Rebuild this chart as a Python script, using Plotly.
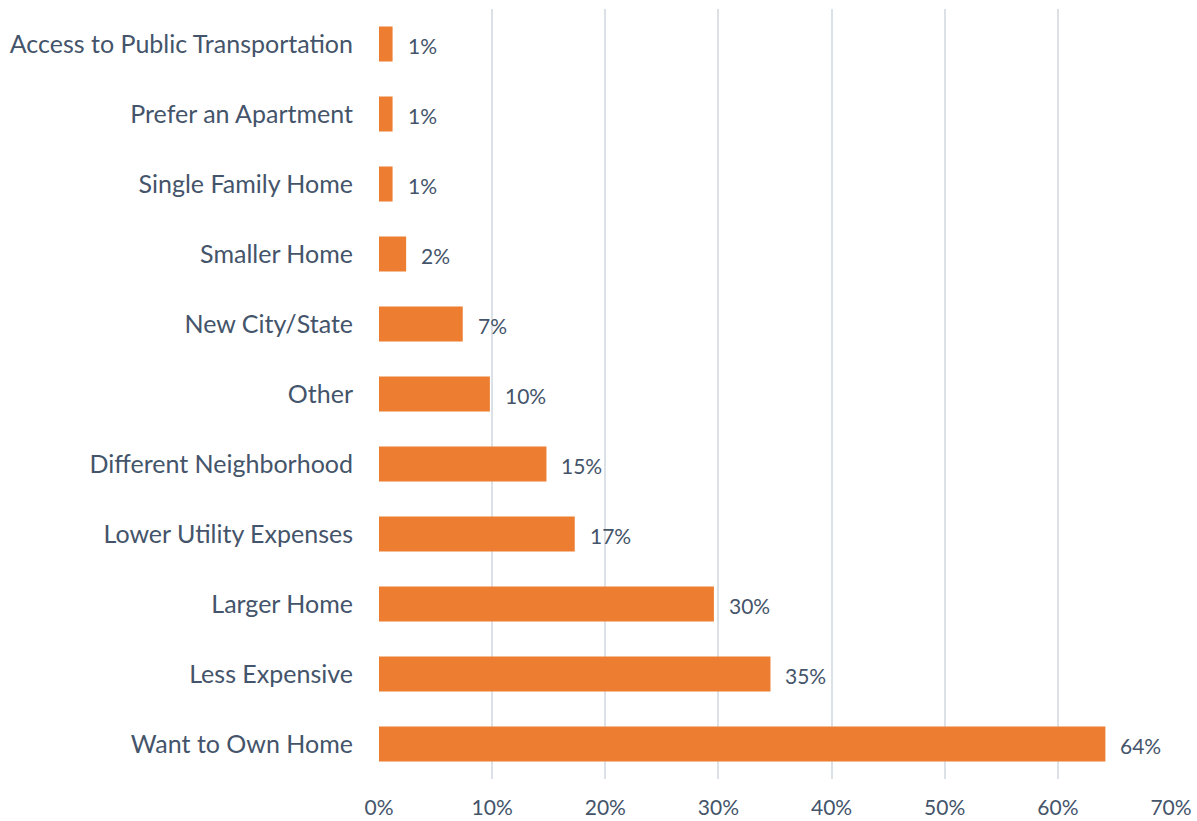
import plotly.graph_objects as go

categories = [
    "Want to Own Home",
    "Less Expensive",
    "Larger Home",
    "Lower Utility Expenses",
    "Different Neighborhood",
    "Other",
    "New City/State",
    "Smaller Home",
    "Single Family Home",
    "Prefer an Apartment",
    "Access to Public Transportation",
]
values = [64.2, 34.6, 29.6, 17.3, 14.8, 9.8, 7.4, 2.4, 1.2, 1.2, 1.2]
labels = ["64%", "35%", "30%", "17%", "15%", "10%", "7%", "2%", "1%", "1%", "1%"]
tick_vals = [0, 10, 20, 30, 40, 50, 60, 70]
tick_text = ["0%", "10%", "20%", "30%", "40%", "50%", "60%", "70%"]

TEXT = "#44546A"
FONT = "Lato"

fig = go.Figure(
    go.Bar(
        x=values,
        y=categories,
        orientation="h",
        marker=dict(color="#ED7D31", line=dict(width=0)),
        hoverinfo="skip",
    )
)

for v, c, t in zip(values, categories, labels):
    fig.add_annotation(
        x=v, y=c, text=t, showarrow=False, xanchor="left", yanchor="middle",
        xshift=13, yshift=-1, font=dict(family=FONT, size=21, color=TEXT),
    )

fig.update_layout(
    width=1197,
    height=821,
    margin=dict(l=379, r=26, t=9, b=42, autoexpand=False),
    plot_bgcolor="white",
    paper_bgcolor="white",
    bargap=0.5,
    showlegend=False,
    font=dict(family=FONT, color=TEXT),
)
fig.update_xaxes(
    range=[0, 70],
    tickvals=tick_vals,
    ticktext=tick_text,
    showgrid=True,
    gridcolor="#DCE1E8",
    gridwidth=2,
    zeroline=False,
    showline=False,
    ticks="",
    automargin=False,
    ticklabelstandoff=14,
    tickfont=dict(family=FONT, size=21, color=TEXT),
    fixedrange=True,
)
fig.update_yaxes(
    categoryorder="array",
    categoryarray=categories,
    showgrid=False,
    zeroline=False,
    showline=False,
    ticks="",
    automargin=False,
    ticklabelstandoff=25,
    tickfont=dict(family=FONT, size=25, color=TEXT),
    fixedrange=True,
)

fig.write_html(
    "out.html",
    config={"displayModeBar": False},
    post_script="document.body.style.margin='0';document.body.style.overflow='hidden';",
)
